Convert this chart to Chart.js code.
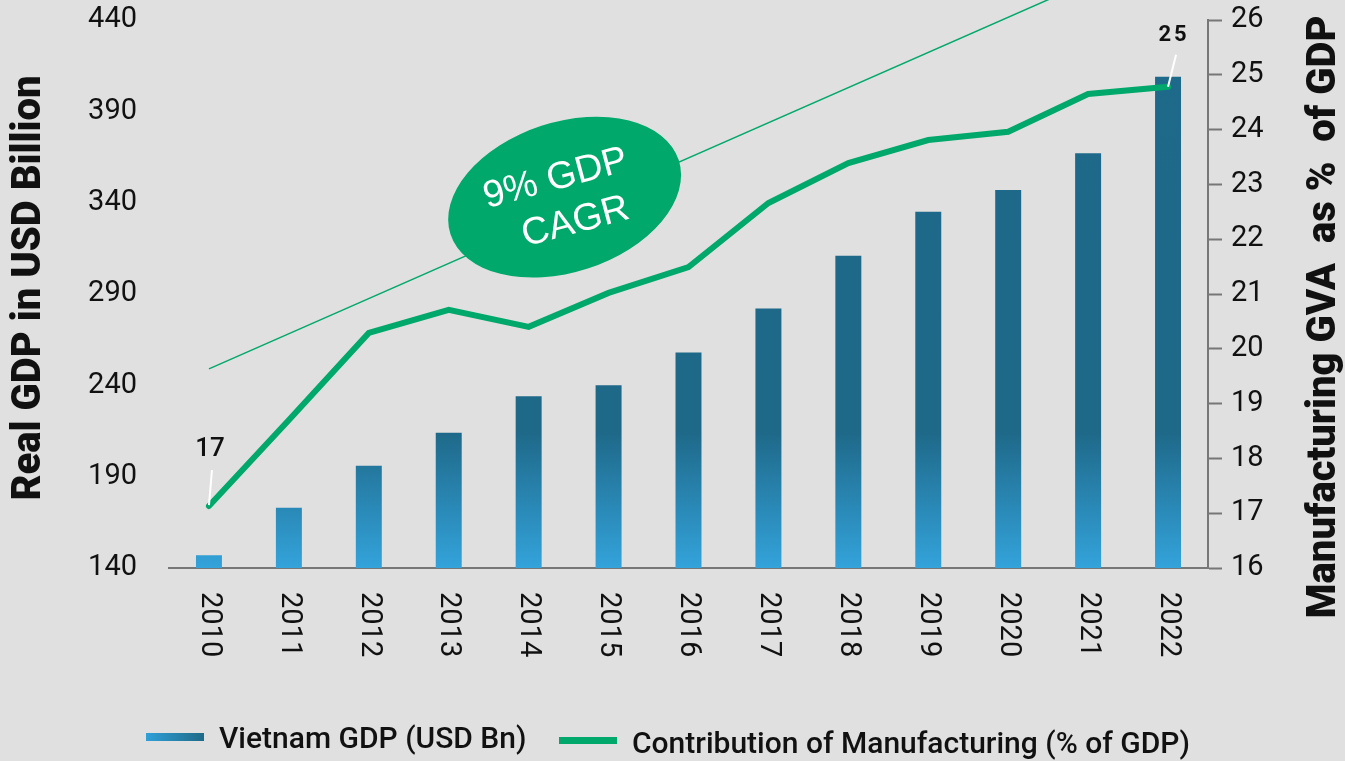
<!DOCTYPE html>
<html>
<head>
<meta charset="utf-8">
<script src="https://cdn.jsdelivr.net/npm/chart.js@4"></script>
<style>
  html, body { margin: 0; padding: 0; background: #e0e0e0; }
  #wrap { width: 1345px; height: 761px; }
</style>
</head>
<body>
<div id="wrap"><canvas id="gdpChart" width="1345" height="761"></canvas></div>
<script>
/* ===== DATA ===== */
const years = ["2010", "2011", "2012", "2013", "2014", "2015", "2016", "2017", "2018", "2019", "2020", "2021", "2022"];
const gdpValues = [147, 173, 196, 214, 234, 240, 258, 282, 311, 335, 347, 367, 409];
const mfgShare = [17.13, 18.7, 20.29, 20.71, 20.4, 21.02, 21.49, 22.66, 23.39, 23.81, 23.96, 24.65, 24.78];
const trendValues = [249, null, null, null, null, null, null, null, null, null, null, null, 480];
const gdpTicks = [140, 190, 240, 290, 340, 390, 440];
const shareTicks = [16, 17, 18, 19, 20, 21, 22, 23, 24, 25, 26];

const GREEN = "#00a86b";
const FONT = "Roboto";

/* ===== BAR GRADIENT ===== */
function barGradient(context) {
    const chart = context.chart;
    const area = chart.chartArea;
    if (!area) return "#1e6a88";
    const g = chart.ctx.createLinearGradient(0, area.bottom, 0, area.top);
    g.addColorStop(0, "#33a3da");
    g.addColorStop(0.25, "#1e6888");
    g.addColorStop(1, "#1e6a8a");
    return g;
}

// keep the plot area where the original has it
function noPad(s) {
    s.paddingTop = 0;
    s.paddingBottom = 0;
}

/* ===== EXTRA DRAWING ===== */
const decor = {
    id: "decor",
    beforeDraw(chart) {
        const c = chart.ctx;
        c.save();
        c.fillStyle = "#e0e0e0";
        c.fillRect(0, 0, chart.width, chart.height);
        c.restore();
    },
    afterDatasetsDraw(chart) {
        const c = chart.ctx;
        const xs = chart.scales.x, ys = chart.scales.y;

        // CAGR bubble
        const cx = xs.getPixelForValue(4.45);
        const cy = ys.getPixelForValue(343);
        c.save();
        c.translate(cx, cy);
        c.rotate(-18 * Math.PI / 180);
        c.beginPath();
        c.ellipse(0, 0, 120, 75, 0, 0, Math.PI * 2);
        c.fillStyle = GREEN;
        c.fill();
        c.rotate(3 * Math.PI / 180);
        c.fillStyle = "#fff";
        c.font = "38px 'Liberation Sans', Arial, sans-serif";
        c.textAlign = "center";
        c.textBaseline = "middle";
        c.fillText("9% GDP", -4, -20);
        c.fillText("CAGR", 4, 27);
        c.restore();

        // value callouts on the share line
        const pts = chart.getDatasetMeta(0).data;
        const first = pts[0], last = pts[pts.length - 1];
        c.save();
        c.strokeStyle = "#fff";
        c.lineWidth = 2;
        c.beginPath();
        c.moveTo(first.x, first.y - 1);
        c.lineTo(first.x + 3, first.y - 36);
        c.moveTo(last.x, last.y);
        c.lineTo(last.x + 8, last.y - 32);
        c.stroke();
        c.fillStyle = "#111";
        c.textAlign = "center";
        c.textBaseline = "middle";
        c.font = `500 26px ${FONT}`;
        c.fillText(Math.round(mfgShare[0]), first.x + 1, first.y - 57);
        c.font = `bold 22px ${FONT}`;
        c.letterSpacing = "3px";
        c.fillText(Math.round(mfgShare[mfgShare.length - 1]), last.x + 6, last.y - 51);
        c.restore();
    },
    afterDraw(chart) {
        const c = chart.ctx;
        const xs = chart.scales.x;
        const area = chart.chartArea;
        c.save();
        c.fillStyle = "#111";

        // year labels, reading downwards
        c.font = `29px ${FONT}`;
        c.textAlign = "left";
        c.textBaseline = "middle";
        years.forEach((yr, i) => {
            c.save();
            c.translate(xs.getPixelForValue(i), area.bottom + 24);
            c.rotate(Math.PI / 2);
            c.fillText(yr, 0, 0);
            c.restore();
        });

        // axis titles, reading upwards
        c.font = `900 40px ${FONT}`;
        c.textAlign = "center";
        c.save();
        c.translate(30, 288);
        c.rotate(-Math.PI / 2);
        c.fillText("Real GDP in USD Billion", 0, 0);
        c.restore();
        c.save();
        c.translate(1325, 317);
        c.rotate(-Math.PI / 2);
        c.fillText("Manufacturing GVA  as %  of GDP", 0, 0);
        c.restore();

        // legend
        const lg = c.createLinearGradient(146, 0, 204, 0);
        lg.addColorStop(0, "#30a0d8");
        lg.addColorStop(1, "#1e6a88");
        c.fillStyle = lg;
        c.fillRect(146, 733, 58, 8);
        c.fillStyle = GREEN;
        c.fillRect(559, 737, 58, 7);
        c.fillStyle = "#111";
        c.textAlign = "left";
        c.textBaseline = "alphabetic";
        c.font = `500 30px ${FONT}`;
        c.fillText("Vietnam GDP (USD Bn)", 219, 748);
        c.fillText("Contribution of Manufacturing (% of GDP)", 632, 753);
        c.restore();
    }
};

/* ===== CHART ===== */
new Chart(document.getElementById("gdpChart"), {
    data: {
        labels: years,
        datasets: [
            {
                type: "line",
                label: "Contribution of Manufacturing (% of GDP)",
                data: mfgShare,
                yAxisID: "y1",
                borderColor: GREEN,
                borderWidth: 6,
                borderCapStyle: "round",
                pointRadius: 0,
                tension: 0,
                order: 0
            },
            {
                type: "line",
                label: "trend",
                data: trendValues,
                yAxisID: "y",
                borderColor: GREEN,
                borderWidth: 1.5,
                pointRadius: 0,
                spanGaps: true,
                clip: false,
                order: 1
            },
            {
                type: "bar",
                label: "Vietnam GDP (USD Bn)",
                data: gdpValues,
                yAxisID: "y",
                backgroundColor: barGradient,
                barPercentage: 0.325,
                categoryPercentage: 1,
                order: 2
            }
        ]
    },
    options: {
        responsive: false,
        animation: false,
        layout: { padding: { top: 20, left: 0, right: 0, bottom: 0 } },
        plugins: {
            legend: { display: false },
            tooltip: { enabled: false }
        },
        scales: {
            x: {
                offset: true,
                grid: { display: false },
                border: { color: "#777", width: 2 },
                ticks: { display: false },
                afterFit: s => { s.height = 193; s.paddingLeft = 0; s.paddingRight = 0; }
            },
            y: {
                position: "left",
                min: gdpTicks[0],
                max: gdpTicks[gdpTicks.length - 1],
                afterBuildTicks: s => { s.ticks = gdpTicks.map(v => ({ value: v })); },
                ticks: { padding: 32, color: "#111", font: { family: FONT, size: 29 } },
                grid: { display: false, drawTicks: false },
                border: { display: false },
                afterFit: s => { s.width = 169; noPad(s); }
            },
            y1: {
                position: "right",
                min: shareTicks[0],
                max: shareTicks[shareTicks.length - 1],
                afterBuildTicks: s => { s.ticks = shareTicks.map(v => ({ value: v })); },
                ticks: { padding: 9, color: "#111", font: { family: FONT, size: 29 } },
                grid: { drawOnChartArea: false, tickLength: 14, tickWidth: 2, color: "#777" },
                border: { color: "#777", width: 2 },
                afterFit: s => { s.width = 137; noPad(s); }
            }
        }
    },
    plugins: [decor]
});
</script>
</body>
</html>
